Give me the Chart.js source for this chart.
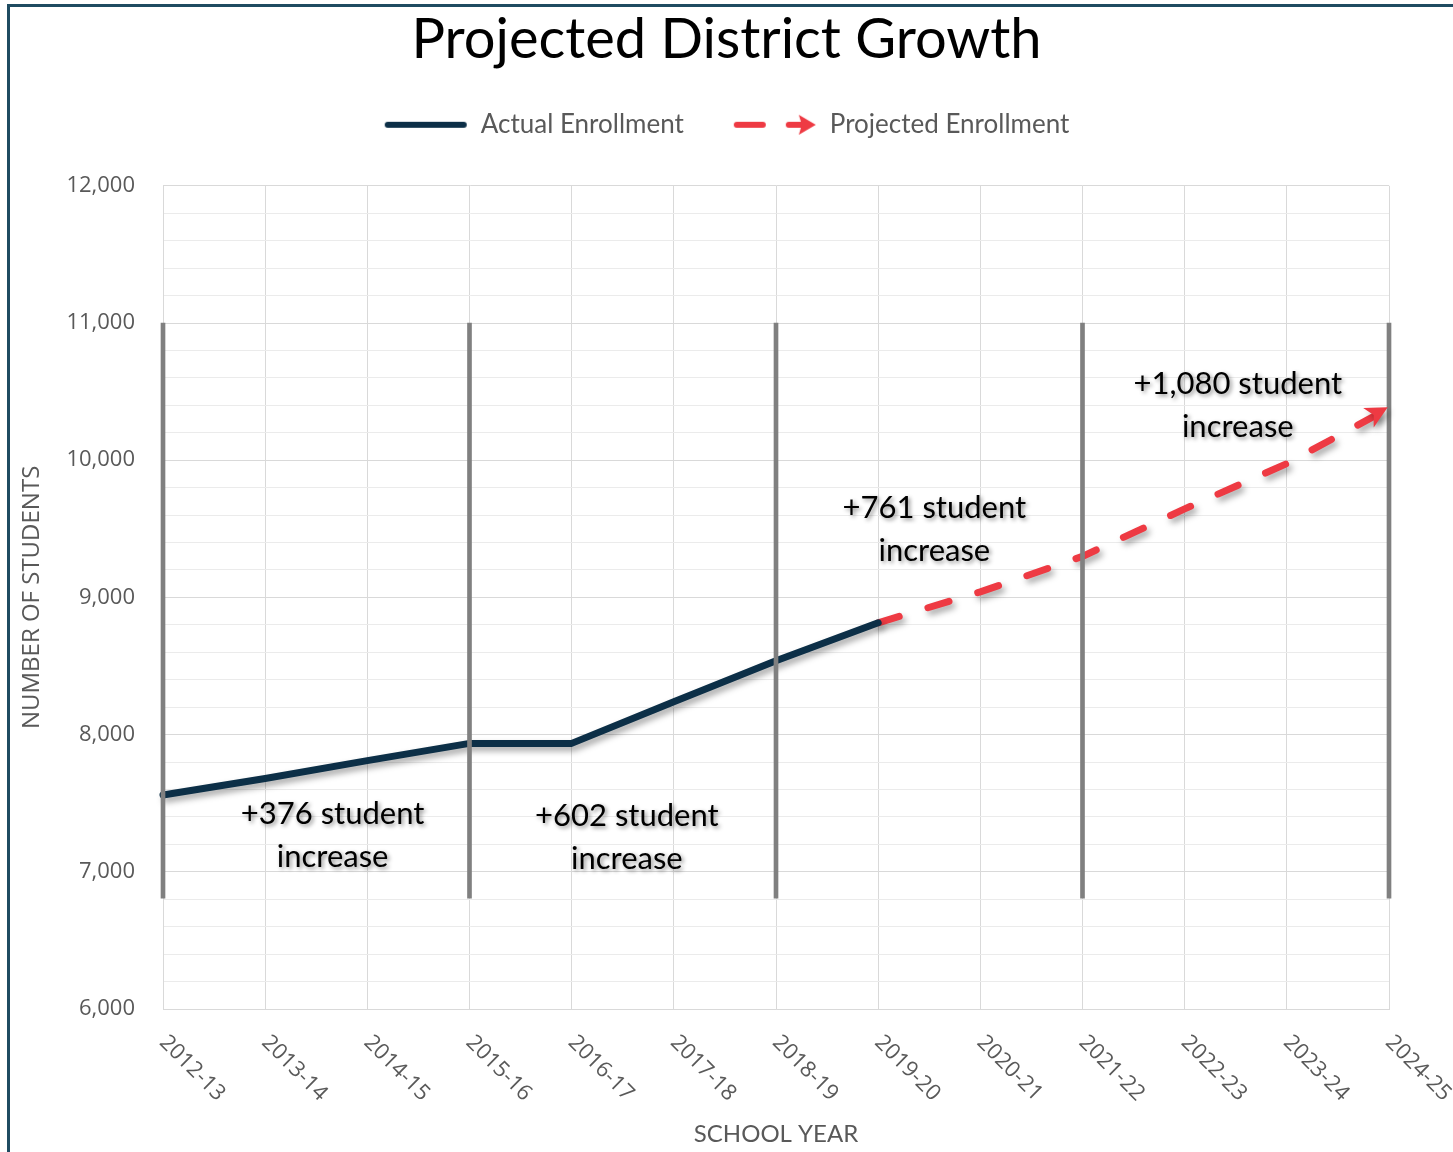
<!DOCTYPE html>
<html>
<head>
<meta charset="utf-8">
<title>Projected District Growth</title>
<script src="https://cdn.jsdelivr.net/npm/chart.js@4.4.1/dist/chart.umd.min.js"></script>
<style>
  html, body { margin: 0; padding: 0; background: #fff; }
  #wrap { position: relative; width: 1453px; height: 1152px; }
</style>
</head>
<body>
<div id="wrap"><canvas id="growth"></canvas></div>
<script>
// school years on the x axis
const years = ['2012-13', '2013-14', '2014-15', '2015-16', '2016-17', '2017-18', '2018-19',
               '2019-20', '2020-21', '2021-22', '2022-23', '2023-24', '2024-25'];
const actualEnrollment = [7560, 7680, 7810, 7936, 7936, 8240, 8538, 8815, null, null, null, null, null];
const projectedEnrollment = [null, null, null, null, null, null, null, 8815, 9040, 9299, 9645, 9975, 10379];
const seriesNames = ['Actual Enrollment', 'Projected Enrollment'];

// grey period dividers
const dividerYears = ['2012-13', '2015-16', '2018-19', '2021-22', '2024-25'];
const dividerRange = [6808, 11000];

// "+N student increase" notes (x = category index, y = students)
const noteText = [['+376 student', 'increase'], ['+602 student', 'increase'],
                  ['+761 student', 'increase'], ['+1,080 student', 'increase']];
const noteYear = [1.66, 4.54, 7.55, 10.52];
const noteValue = [7420, 7405, 9648, 10558];

const navy = '#0c2f47';
const red = '#ee3a43';
const grey = '#595959';

// legend icons
function lineIcon() {
    const c = document.createElement('canvas');
    c.width = 84; c.height = 12;
    const g = c.getContext('2d');
    g.strokeStyle = navy; g.lineWidth = 6; g.lineCap = 'round';
    g.beginPath(); g.moveTo(4, 6); g.lineTo(80, 6); g.stroke();
    return c;
}
function dashArrowIcon() {
    const c = document.createElement('canvas');
    c.width = 84; c.height = 24;
    const g = c.getContext('2d');
    g.strokeStyle = red; g.fillStyle = red; g.lineWidth = 6; g.lineCap = 'round';
    g.beginPath(); g.moveTo(4, 12); g.lineTo(30, 12); g.stroke();
    g.beginPath(); g.moveTo(56, 12); g.lineTo(70, 12); g.stroke();
    g.beginPath(); g.moveTo(83, 12); g.lineTo(66, 2); g.lineTo(69, 12); g.lineTo(66, 22); g.closePath(); g.fill();
    return c;
}
const legendIcons = [lineIcon(), dashArrowIcon()];

const lineShadow = {
    id: 'lineShadow',
    beforeDatasetDraw(chart, args) {
        if (args.meta.type !== 'line') return;
        const ctx = chart.ctx;
        ctx.save();
        ctx.shadowColor = 'rgba(0,0,0,0.35)';
        ctx.shadowBlur = 6;
        ctx.shadowOffsetX = 3;
        ctx.shadowOffsetY = 4;
    },
    afterDatasetDraw(chart, args) {
        if (args.meta.type === 'line') chart.ctx.restore();
    }
};

const extras = {
    id: 'extras',
    afterDatasetsDraw(chart) {
        const ctx = chart.ctx;
        const xs = chart.scales.x, ys = chart.scales.y;

        // arrow head at the end of the projection
        const pts = chart.getDatasetMeta(1).data;
        const a = pts[pts.length - 2], b = pts[pts.length - 1];
        const ang = Math.atan2(b.y - a.y, b.x - a.x);
        ctx.save();
        ctx.shadowColor = 'rgba(0,0,0,0.35)';
        ctx.shadowBlur = 6; ctx.shadowOffsetX = 3; ctx.shadowOffsetY = 4;
        ctx.translate(b.x - 3, b.y);
        ctx.rotate(ang);
        ctx.fillStyle = red;
        ctx.beginPath();
        ctx.moveTo(2, 0); ctx.lineTo(-20, -11); ctx.lineTo(-14, 0); ctx.lineTo(-20, 11);
        ctx.closePath(); ctx.fill();
        ctx.restore();

        // notes
        ctx.save();
        ctx.font = '31px Lato';
        ctx.fillStyle = '#000';
        ctx.textAlign = 'center';
        ctx.textBaseline = 'middle';
        ctx.shadowColor = 'rgba(0,0,0,0.45)';
        ctx.shadowBlur = 4; ctx.shadowOffsetX = 2; ctx.shadowOffsetY = 2;
        noteText.forEach((lines, i) => {
            const px = xs.getPixelForValue(noteYear[i]);
            const py = ys.getPixelForValue(noteValue[i]);
            lines.forEach((t, j) => ctx.fillText(t, px, py + j * 43));
        });
        ctx.restore();
    },
    afterDraw(chart) {
        const ctx = chart.ctx;
        const xs = chart.scales.x;
        // rotated year labels
        ctx.save();
        ctx.font = '22px "Open Sans"';
        ctx.fillStyle = grey;
        ctx.textAlign = 'left';
        ctx.textBaseline = 'middle';
        years.forEach((lab, i) => {
            ctx.save();
            ctx.translate(xs.getPixelForTick(i), xs.top + 30);
            ctx.rotate(Math.PI / 4);
            ctx.fillText(lab, 0, 0);
            ctx.restore();
        });
        // frame
        ctx.fillStyle = '#1f4b61';
        ctx.fillRect(7, 4, 3, chart.height - 4);
        ctx.fillRect(7, 4, chart.width - 7, 3);
        ctx.restore();
    }
};

const dividers = years.map(y => dividerYears.includes(y) ? dividerRange.slice() : null);

new Chart(document.getElementById('growth'), {
    type: 'line',
    data: {
        labels: years,
        datasets: [
            {
                label: seriesNames[0],
                data: actualEnrollment,
                borderColor: navy,
                borderWidth: 7,
                borderCapStyle: 'round',
                borderJoinStyle: 'round',
                pointRadius: 0,
                tension: 0,
                clip: false,
                order: 1,
                xAxisID: 'x', yAxisID: 'y'
            },
            {
                label: seriesNames[1],
                data: projectedEnrollment,
                borderColor: red,
                borderWidth: 7,
                borderDash: [22, 30],
                borderCapStyle: 'round',
                pointRadius: 0,
                tension: 0,
                clip: false,
                order: 1,
                xAxisID: 'x', yAxisID: 'y'
            },
            {
                type: 'bar',
                label: 'dividers',
                data: dividers,
                backgroundColor: '#808080',
                borderWidth: 0,
                barThickness: 4,
                clip: false,
                order: 0,
                xAxisID: 'x', yAxisID: 'y'
            }
        ]
    },
    options: {
        responsive: true,
        maintainAspectRatio: false,
        animation: false,
        events: [],
        layout: { padding: 0 },
        plugins: {
            tooltip: { enabled: false },
            title: {
                display: true,
                text: 'Projected District Growth',
                color: '#000',
                font: { family: 'Lato', size: 56, weight: 'normal', lineHeight: 0.8 },
                padding: { top: 18, bottom: 0 }
            },
            legend: {
                position: 'top',
                labels: {
                    usePointStyle: true,
                    pointStyleWidth: 84,
                    padding: 49,
                    color: grey,
                    font: { family: 'Lato', size: 26 },
                    generateLabels: () => seriesNames.map((name, i) => ({
                        text: name,
                        pointStyle: legendIcons[i],
                        fillStyle: 'transparent',
                        strokeStyle: 'transparent',
                        lineWidth: 0,
                        fontColor: grey,
                        hidden: false,
                        datasetIndex: i
                    }))
                }
            }
        },
        scales: {
            x: {
                type: 'category',
                offset: false,
                afterFit: s => { s.height = 143; },
                ticks: { display: false },
                grid: { offset: false, color: '#d9d9d9', drawTicks: false },
                border: { color: '#d9d9d9' },
                title: {
                    display: true, text: 'SCHOOL YEAR', color: grey,
                    font: { family: 'Lato', size: 24 }, padding: { bottom: 3 }
                }
            },
            xTop: {
                type: 'linear', position: 'top', display: true,
                afterFit: s => { s.height = 38; },
                ticks: { display: false }, grid: { display: false }, border: { display: false }
            },
            y: {
                min: 6000,
                max: 12000,
                afterFit: s => { s.width = 163; },
                ticks: {
                    stepSize: 200,
                    autoSkip: false,
                    padding: 28,
                    color: grey,
                    font: { family: 'Open Sans', size: 22 },
                    callback: v => v % 1000 === 0 ? v.toLocaleString('en-US') : ''
                },
                grid: {
                    drawTicks: false,
                    color: c => (c.tick && c.tick.value % 1000 === 0) ? '#d9d9d9' : '#ebebeb'
                },
                border: { color: '#d9d9d9' },
                title: {
                    display: true, text: 'NUMBER OF STUDENTS', color: grey,
                    font: { family: 'Open Sans', size: 24 }, padding: { top: 18 }
                }
            },
            yRight: {
                type: 'linear', position: 'right', display: true,
                afterFit: s => { s.width = 64; },
                ticks: { display: false }, grid: { display: false }, border: { display: false }
            }
        }
    },
    plugins: [lineShadow, extras]
});
</script>
</body>
</html>
